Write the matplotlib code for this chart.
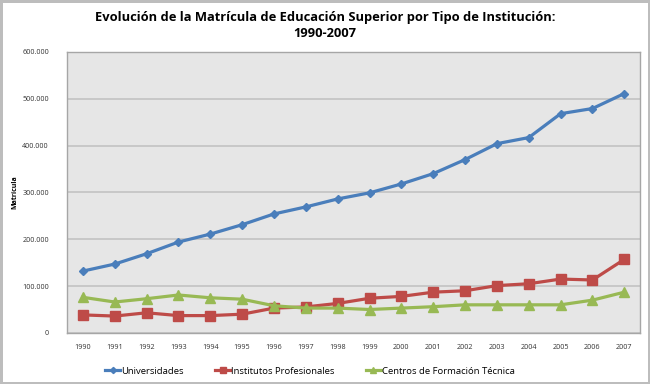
import matplotlib
matplotlib.use("Agg")
import matplotlib.pyplot as plt
from matplotlib.ticker import FuncFormatter, MultipleLocator

years = list(range(1990, 2008))
universidades = [132000, 147000, 169000, 194000, 211000, 231000, 254000, 269000, 286000,
                 299000, 318000, 340000, 370000, 404000, 417000, 468000, 479000, 511000]
institutos = [38500, 36000, 43000, 37000, 37000, 40000, 53000, 55500, 63000,
              74000, 78000, 87000, 90000, 101000, 105000, 115000, 113000, 157000]
centros = [76000, 66000, 73000, 81000, 75000, 72000, 58000, 53000, 53000,
           50000, 53000, 56000, 60000, 60000, 60000, 60000, 70000, 87000]
labels = ["Universidades", "Institutos Profesionales", "Centros de Formación Técnica"]

plt.rcParams['font.family'] = ['Open Sans', 'DejaVu Sans']

fig = plt.figure(figsize=(6.5, 3.84), dpi=100)
fig.patch.set_facecolor("white")
fig.patch.set_edgecolor("#bdbdbd")
fig.patch.set_linewidth(2.5)

ax = fig.add_axes([0.103, 0.133, 0.882, 0.732])
ax.set_facecolor("#e6e6e6")

ax.plot(years, universidades, color="#4a7ebb", lw=2.3, marker="D", ms=4.5, label=labels[0])
ax.plot(years, institutos, color="#be4b48", lw=2.3, marker="s", ms=6.5, label=labels[1])
ax.plot(years, centros, color="#98b954", lw=2.3, marker="^", ms=6.5, label=labels[2])

ax.set_xlim(1989.5, 2007.5)
ax.set_ylim(0, 600000)
ax.set_xticks(years)
ax.yaxis.set_major_locator(MultipleLocator(100000))
ax.yaxis.set_major_formatter(FuncFormatter(lambda v, p: f"{int(v):,}".replace(",", ".")))
ax.tick_params(axis="both", labelsize=5.2, length=0, colors="#333333")
ax.tick_params(axis="x", pad=8)
ax.tick_params(axis="y", pad=13)
ax.grid(axis="y", color="#bfbfbf", lw=1.1)
ax.set_axisbelow(True)
for s in ax.spines.values():
    s.set_color("#a6a6a6")
    s.set_linewidth(1)

ax.set_ylabel("Matrícula", fontsize=5, fontweight="bold")
ax.yaxis.set_label_coords(-0.085, 0.5)

fig.suptitle("Evolución de la Matrícula de Educación Superior por Tipo de Institución:\n1990-2007",
             fontsize=9.3, fontweight="bold", y=0.972, linespacing=1.35)

fig.legend(loc="center", bbox_to_anchor=(310 / 650, 1 - 371 / 384), ncol=3, frameon=False,
           fontsize=6.8, handlelength=1.6, handletextpad=0.1, columnspacing=3.3,
           markerscale=0.7)

fig.savefig("out.png", dpi=100)
